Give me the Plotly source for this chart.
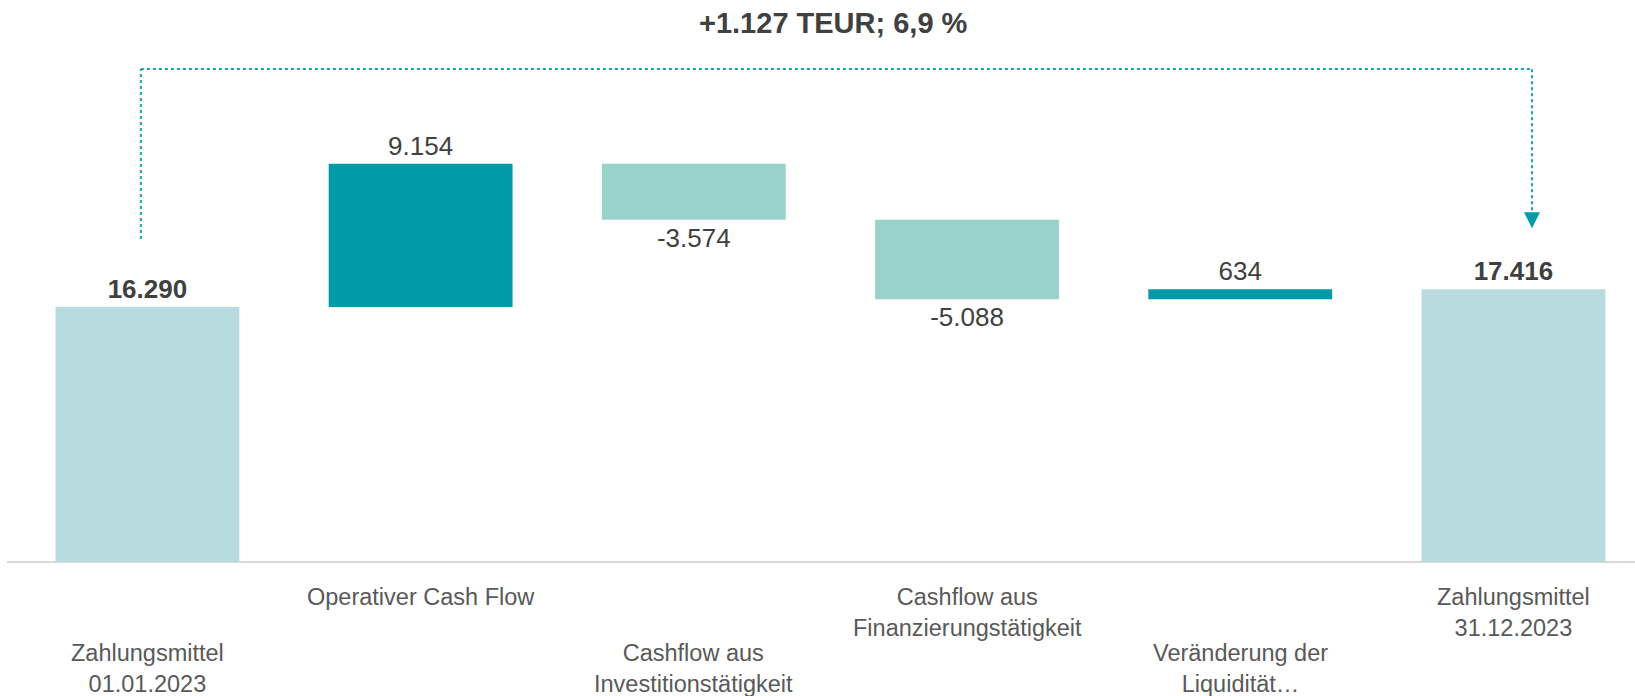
import plotly.graph_objects as go

# ---- data ----
categories = [
    "Zahlungsmittel<br>01.01.2023",
    "Operativer Cash Flow",
    "Cashflow aus<br>Investitionstätigkeit",
    "Cashflow aus<br>Finanzierungstätigkeit",
    "Veränderung der<br>Liquidität…",
    "Zahlungsmittel<br>31.12.2023",
]
values = [16290, 9154, -3574, -5088, 634, 17416]
measures = ["absolute", "relative", "relative", "relative", "relative", "total"]
label_row = [1, 0, 1, 0, 1, 0]  # staggered category labels (0 = upper, 1 = lower)
headline = "+1.127 TEUR; 6,9 %"

# ---- styles ----
C_TOTAL = "#B8DBE0"
C_UP = "#009BA6"
C_DOWN = "#98D2CB"
C_LINE = "#1AA3AE"
FONT = "Arial, Liberation Sans, sans-serif"


def fmt(v):
    return f"{v:,}".replace(",", ".")


texts = []
for v, m in zip(values, measures):
    s = fmt(v)
    texts.append(f"<b>{s}</b>" if m in ("absolute", "total") else s)

xs = list(range(len(categories)))

fig = go.Figure(
    go.Waterfall(
        x=xs,
        y=values,
        measure=measures,
        text=texts,
        texttemplate="%{text}",
        textposition="outside",
        textfont=dict(size=26, color="#404040", family=FONT),
        cliponaxis=False,
        width=[0.673] * len(xs),
        connector=dict(visible=False),
        increasing=dict(marker=dict(color=C_UP)),
        decreasing=dict(marker=dict(color=C_DOWN)),
        totals=dict(marker=dict(color=C_TOTAL)),
        hoverinfo="skip",
    )
)

annotations = []
for i, (cat, row) in enumerate(zip(categories, label_row)):
    annotations.append(
        dict(
            x=xs[i], y=0, xref="x", yref="y",
            text=cat, showarrow=False,
            xanchor="center", yanchor="top",
            yshift=-20 - 56 * row,
            font=dict(size=23.5, color="#595959", family=FONT),
            align="center",
        )
    )

annotations.append(
    dict(
        x=830 / 1635, y=1 - 5 / 696, xref="paper", yref="paper",
        text=f"<b>{headline}</b>", showarrow=False,
        xanchor="center", yanchor="top",
        font=dict(size=29, color="#404040", family=FONT),
    )
)

start_val = values[0]
end_val = values[-1]
x_left = xs[0] - 0.024
x_right = xs[-1] + 0.068
line_style = dict(color=C_LINE, width=2, dash="dot")

shapes = [
    # left vertical
    dict(type="line", xref="x", yref="y", ysizemode="pixel", yanchor=start_val,
         x0=x_left, x1=x_left, y0=68, y1=238, line=line_style),
    # horizontal
    dict(type="line", xref="x", yref="y", ysizemode="pixel", yanchor=start_val,
         x0=x_left, x1=x_right, y0=238, y1=238, line=line_style),
    # right vertical
    dict(type="line", xref="x", yref="y", ysizemode="pixel", yanchor=end_val,
         x0=x_right, x1=x_right, y0=220, y1=77, line=line_style),
    # arrow head
    dict(type="path", xref="x", yref="y", xsizemode="pixel", ysizemode="pixel",
         xanchor=x_right, yanchor=end_val,
         path="M -8,77 L 8,77 L 0,61 Z",
         fillcolor=C_UP, line=dict(width=0)),
]

fig.update_layout(
    width=1635, height=696,
    margin=dict(l=7, r=0, t=0, b=0),
    paper_bgcolor="white", plot_bgcolor="white",
    showlegend=False,
    xaxis=dict(range=[-0.514, 5.445], showticklabels=False, showgrid=False,
               zeroline=False, showline=False, fixedrange=True),
    yaxis=dict(range=[-8560, 35900], showticklabels=False, showgrid=False,
               zeroline=True, zerolinecolor="#D9D9D9", zerolinewidth=2,
               showline=False, fixedrange=True),
    annotations=annotations,
    shapes=shapes,
    font=dict(family=FONT),
)

fig.write_html(
    "out.html",
    config={"displayModeBar": False},
    post_script="document.body.style.margin='0';document.body.style.overflow='hidden';",
)
